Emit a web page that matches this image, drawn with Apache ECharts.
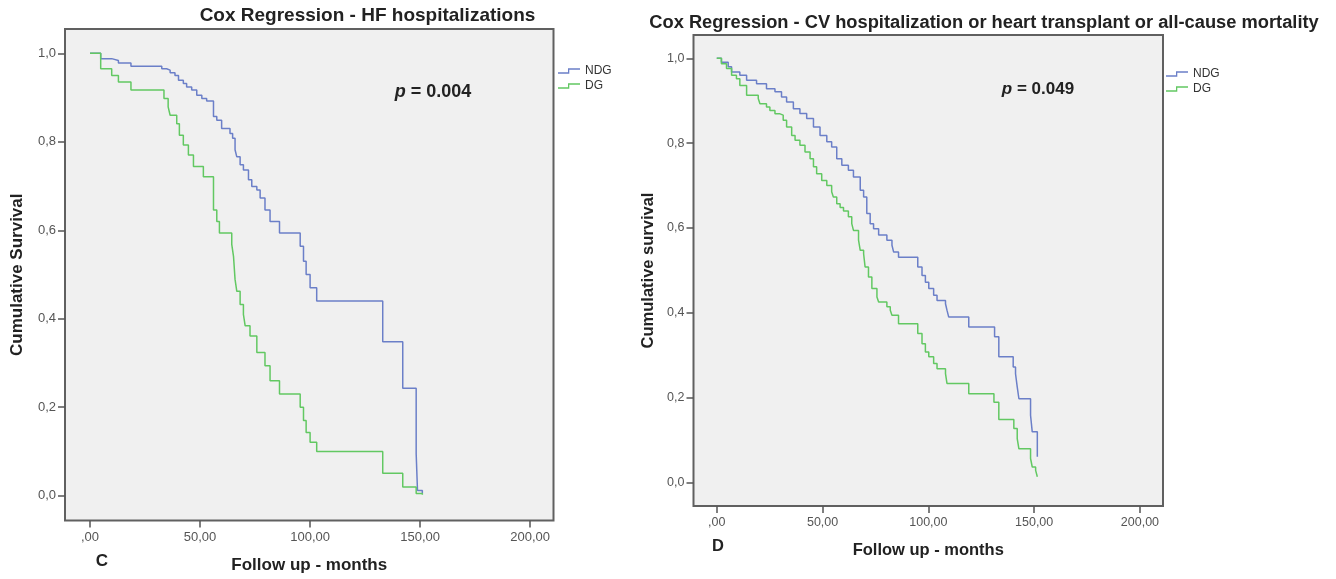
<!DOCTYPE html>
<html>
<head>
<meta charset="utf-8">
<title>Cox Regression</title>
<script src="https://cdn.jsdelivr.net/npm/echarts@6.0.0/dist/echarts.min.js"></script>
<style>
  html, body { margin: 0; padding: 0; background: #fff; }
  #charts { width: 1336px; height: 579px; }
</style>
</head>
<body>
<div id="charts"></div>
<script>
// C - HF hospitalizations (months, cumulative survival)
const monthsC_NDG = [0, 4.85, 9.85, 12.9, 18.6, 32.6, 34.8, 36.4, 38.6, 40.2, 42.4, 43.9, 46.2, 48.5, 50.8, 53.0, 56.1, 57.6, 59.8, 63.6, 64.8, 65.9, 66.7, 68.2, 69.7, 72.0, 73.5, 75.8, 77.3, 79.5, 81.8, 86.1, 95.5, 97.0, 98.2, 100, 103, 133, 142.1, 148.2, 148.8, 151];
const survC_NDG = [1.0, 0.988, 0.984, 0.978, 0.971, 0.965, 0.962, 0.956, 0.950, 0.939, 0.932, 0.924, 0.917, 0.905, 0.898, 0.892, 0.857, 0.849, 0.830, 0.819, 0.808, 0.782, 0.766, 0.748, 0.736, 0.714, 0.699, 0.691, 0.673, 0.646, 0.620, 0.594, 0.564, 0.530, 0.500, 0.470, 0.440, 0.348, 0.243, 0.095, 0.012, 0.005];
const monthsC_DG = [0, 4.85, 9.85, 12.9, 18.6, 33.6, 35.5, 36.4, 39.4, 40.6, 42.4, 44.7, 47.0, 51.5, 56.1, 57.6, 58.8, 64.4, 65.2, 65.9, 66.7, 68.2, 69.7, 70.5, 72.7, 75.8, 79.5, 81.8, 86.1, 95.5, 97.0, 98.2, 100, 103, 133, 142.1, 148.2, 151];
const survC_DG = [1.0, 0.965, 0.950, 0.935, 0.917, 0.898, 0.879, 0.860, 0.841, 0.815, 0.793, 0.770, 0.744, 0.721, 0.646, 0.620, 0.594, 0.568, 0.541, 0.489, 0.462, 0.432, 0.410, 0.384, 0.361, 0.324, 0.294, 0.260, 0.230, 0.200, 0.170, 0.143, 0.121, 0.100, 0.051, 0.020, 0.005, 0.002];

// D - CV hospitalization or heart transplant or all-cause mortality
const monthsD_NDG = [0, 2.2, 5.4, 7.0, 10.9, 14.1, 18.8, 23.5, 27.5, 30.6, 33.0, 36.2, 39.3, 42.5, 45.7, 48.8, 52.0, 54.3, 56.7, 59.1, 62.2, 64.6, 67.8, 69.4, 70.9, 72.5, 74.1, 76.5, 80.4, 82.8, 83.6, 85.9, 95.0, 97.0, 98.6, 100.2, 102.5, 104.1, 108.1, 108.8, 109.6, 119.1, 131.3, 133.3, 140.1, 141.2, 142.0, 142.8, 148.3, 149.1, 151.5];
const survD_NDG = [1.0, 0.991, 0.980, 0.968, 0.960, 0.948, 0.940, 0.928, 0.921, 0.909, 0.897, 0.881, 0.870, 0.858, 0.838, 0.818, 0.803, 0.791, 0.763, 0.748, 0.736, 0.720, 0.689, 0.673, 0.634, 0.610, 0.598, 0.583, 0.571, 0.559, 0.543, 0.531, 0.508, 0.488, 0.472, 0.457, 0.441, 0.429, 0.421, 0.406, 0.390, 0.366, 0.343, 0.296, 0.272, 0.256, 0.225, 0.197, 0.158, 0.119, 0.060];
const monthsD_DG = [0, 2.2, 4.6, 7.0, 9.3, 10.9, 14.1, 19.6, 20.4, 23.5, 25.1, 27.5, 29.9, 31.4, 33.0, 35.4, 37.0, 39.3, 41.7, 44.1, 45.7, 47.2, 49.6, 52.0, 54.3, 55.1, 56.7, 58.3, 59.9, 62.2, 63.8, 64.6, 67.0, 67.8, 69.4, 70.1, 71.7, 73.3, 75.7, 76.5, 80.4, 82.0, 82.8, 85.9, 95.0, 97.0, 98.6, 100.2, 102.5, 104.1, 108.1, 108.8, 119.1, 131.0, 133.3, 140.4, 142.0, 142.8, 148.3, 149.1, 150.7, 151.5];
const survD_DG = [1.0, 0.987, 0.976, 0.960, 0.952, 0.936, 0.913, 0.905, 0.893, 0.885, 0.877, 0.869, 0.866, 0.854, 0.838, 0.818, 0.807, 0.795, 0.779, 0.763, 0.744, 0.728, 0.712, 0.700, 0.685, 0.673, 0.657, 0.648, 0.640, 0.626, 0.610, 0.594, 0.571, 0.547, 0.539, 0.508, 0.484, 0.457, 0.437, 0.425, 0.414, 0.406, 0.394, 0.374, 0.351, 0.327, 0.307, 0.296, 0.280, 0.268, 0.256, 0.233, 0.209, 0.189, 0.148, 0.127, 0.103, 0.079, 0.056, 0.036, 0.028, 0.013];

const groups = ['NDG', 'DG'];
const xTicks = [0, 50, 100, 150, 200];
const xTickLabels = [',00', '50,00', '100,00', '150,00', '200,00'];
const yTicks = [0, 0.2, 0.4, 0.6, 0.8, 1.0];
const yTickLabels = ['0,0', '0,2', '0,4', '0,6', '0,8', '1,0'];

const FONT = '"Liberation Sans", Arial, sans-serif';
const BLUE = '#6b7fc8';
const GREEN = '#62c862';
const stepIcon = 'path://M0,4 L10,4 L10,0 L22,0 L22,1.3 L11.3,1.3 L11.3,5.3 L0,5.3 Z';

function pairs(months, surv) {
  return months.map(function (m, i) { return [m, surv[i]]; });
}
function tickLabel(ticks, labels) {
  return function (v) {
    let best = 0;
    ticks.forEach(function (t, i) { if (Math.abs(t - v) < Math.abs(ticks[best] - v)) best = i; });
    return labels[best];
  };
}

function xAxisOf(idx, min, max, fs, nameGap, nameSize) {
  return {
    type: 'value', gridIndex: idx, min: min, max: max,
    axisLine: { show: false, onZero: false },
    splitLine: { show: false },
    axisTick: { show: true, length: 7, customValues: xTicks, lineStyle: { color: '#555', width: 1.5 } },
    axisLabel: { customValues: xTicks, formatter: tickLabel(xTicks, xTickLabels), margin: 10, color: '#555', fontSize: fs, fontFamily: FONT },
    name: 'Follow up - months', nameLocation: 'middle', nameGap: nameGap,
    nameTextStyle: { fontWeight: 'bold', fontSize: nameSize, color: '#222', fontFamily: FONT },
  };
}
function yAxisOf(idx, name, fs, nameGap, nameSize) {
  return {
    type: 'value', gridIndex: idx, min: -0.056, max: 1.055,
    axisLine: { show: false, onZero: false },
    splitLine: { show: false },
    axisTick: { show: true, length: 7, customValues: yTicks, lineStyle: { color: '#555', width: 1.5 } },
    axisLabel: { customValues: yTicks, formatter: tickLabel(yTicks, yTickLabels), margin: 9, color: '#555', fontSize: fs, fontFamily: FONT },
    name: name, nameLocation: 'middle', nameGap: nameGap,
    nameTextStyle: { fontWeight: 'bold', fontSize: nameSize, color: '#222', fontFamily: FONT },
  };
}
function curve(name, idx, months, surv, color) {
  return {
    name: name, type: 'line', xAxisIndex: idx, yAxisIndex: idx,
    step: 'end', symbol: 'none', data: pairs(months, surv),
    lineStyle: { color: color, width: 1.5 },
    itemStyle: { color: color },
  };
}
function legendAt(left, top) {
  return {
    data: groups, orient: 'vertical', left: left, top: top, padding: 0,
    itemGap: 3, itemWidth: 22, itemHeight: 5.3, icon: stepIcon, selectedMode: false,
    textStyle: { fontSize: 12, color: '#333', fontFamily: FONT },
  };
}
function label(x, y, text, size, rich) {
  return {
    type: 'text', x: x, y: y, silent: true,
    style: {
      text: text, fill: '#222', fontWeight: 'bold', fontSize: size, fontFamily: FONT,
      align: 'center', verticalAlign: 'middle', textAlign: 'center', textVerticalAlign: 'middle',
      rich: rich,
    },
  };
}
function pRich(size) {
  return { i: { fontStyle: 'italic', fontWeight: 'bold', fontSize: size, fontFamily: FONT, fill: '#222' } };
}

let myChart = echarts.init(document.getElementById('charts'));
let option = {
  animation: false,
  backgroundColor: '#fff',
  grid: [
    { left: 65, top: 29, width: 488.5, height: 492, show: true, backgroundColor: '#f0f0f0', borderColor: '#606060', borderWidth: 2 },
    { left: 693.5, top: 35, width: 469.5, height: 471, show: true, backgroundColor: '#f0f0f0', borderColor: '#606060', borderWidth: 2 },
  ],
  xAxis: [
    xAxisOf(0, -11.37, 210.6, 13, 36.5, 17),
    xAxisOf(1, -11.0, 210.9, 12.5, 35.5, 16.5),
  ],
  yAxis: [
    yAxisOf(0, 'Cumulative Survival', 13, 39, 17),
    yAxisOf(1, 'Cumulative survival', 12.5, 37, 16.5),
  ],
  legend: [legendAt(558, 65), legendAt(1166, 68)],
  graphic: [
    label(367.5, 16, 'Cox Regression - HF hospitalizations', 19),
    label(984, 23, 'Cox Regression - CV hospitalization or heart transplant or all-cause mortality', 18.3),
    label(433, 92, '{i|p} = 0.004', 18, pRich(18)),
    label(1038, 89, '{i|p} = 0.049', 17, pRich(17)),
    label(102, 561, 'C', 17),
    label(718, 546, 'D', 16.5),
  ],
  series: [
    curve('NDG', 0, monthsC_NDG, survC_NDG, BLUE),
    curve('DG', 0, monthsC_DG, survC_DG, GREEN),
    curve('NDG', 1, monthsD_NDG, survD_NDG, BLUE),
    curve('DG', 1, monthsD_DG, survD_DG, GREEN),
  ],
};
myChart.setOption(option);

window.addEventListener('resize', function () {
  myChart.resize();
});
</script>
</body>
</html>
